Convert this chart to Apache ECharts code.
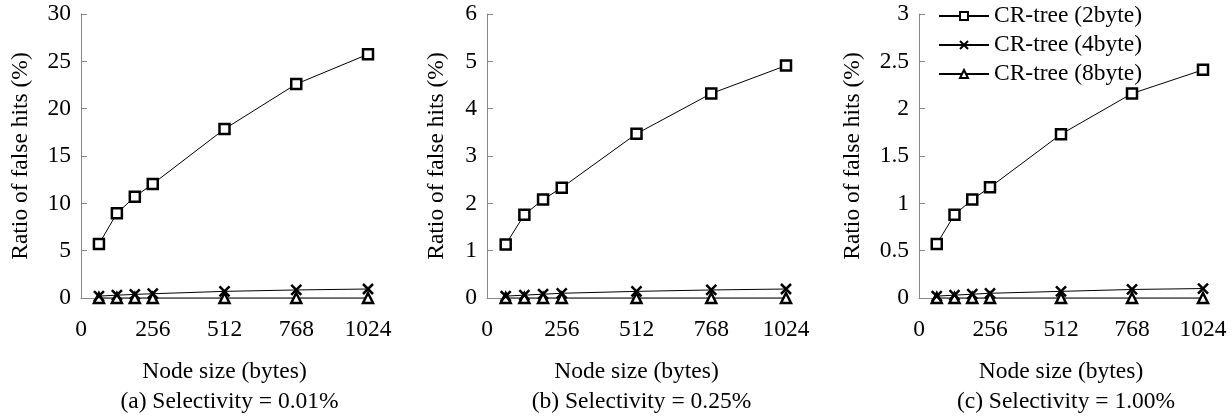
<!DOCTYPE html>
<html>
<head>
<meta charset="utf-8">
<script src="https://cdn.jsdelivr.net/npm/echarts@6/dist/echarts.min.js"></script>
<style>
html, body { margin: 0; padding: 0; background: #fff; }
#main { width: 1232px; height: 418px; }
</style>
</head>
<body>
<div id="main"></div>
<script>
// node sizes (bytes)
var nodeSizes = [64, 128, 192, 256, 512, 768, 1024];
var seriesNames = ['CR-tree (2byte)', 'CR-tree (4byte)', 'CR-tree (8byte)'];
var captions = ['(a) Selectivity = 0.01%', '(b) Selectivity = 0.25%', '(c) Selectivity = 1.00%'];

// ratio of false hits (%)
var sel001_2byte = [5.7, 8.95, 10.7, 12.05, 17.85, 22.6, 25.75];
var sel001_4byte = [0.2, 0.3, 0.38, 0.45, 0.7, 0.85, 0.95];
var sel001_8byte = [0, 0, 0, 0, 0, 0, 0];

var sel025_2byte = [1.13, 1.76, 2.08, 2.33, 3.47, 4.32, 4.91];
var sel025_4byte = [0.04, 0.06, 0.08, 0.1, 0.14, 0.17, 0.19];
var sel025_8byte = [0, 0, 0, 0, 0, 0, 0];

var sel100_2byte = [0.57, 0.88, 1.04, 1.17, 1.73, 2.16, 2.41];
var sel100_4byte = [0.02, 0.03, 0.04, 0.05, 0.07, 0.09, 0.1];
var sel100_8byte = [0, 0, 0, 0, 0, 0, 0];

var yMax = [30, 6, 3];
var yStep = [5, 1, 0.5];

var panels = [
    [sel001_2byte, sel001_4byte, sel001_8byte],
    [sel025_2byte, sel025_4byte, sel025_8byte],
    [sel100_2byte, sel100_4byte, sel100_8byte]
];

var font = 'Liberation Serif';
var fs = 23.5;
var grids = [
    { left: 81, width: 287, top: 14, height: 284 },
    { left: 487, width: 299, top: 14, height: 284 },
    { left: 919, width: 284, top: 14, height: 284 }
];
var yNameGap = [48, 38, 54];
var symbols = [
    'rect',
    'path://M0,0L10,10M10,0L0,10',
    'triangle'
];

function pairs(vals) {
    return nodeSizes.map(function (x, i) { return [x, vals[i]]; });
}

var xAxes = [], yAxes = [], series = [], titles = [];
for (var p = 0; p < 3; p++) {
    xAxes.push({
        gridIndex: p,
        type: 'value',
        min: 0, max: 1024, interval: 256,
        name: 'Node size (bytes)',
        nameLocation: 'middle',
        nameGap: 62,
        nameTextStyle: { fontFamily: font, fontSize: fs, color: '#000' },
        axisLine: { lineStyle: { color: '#888', width: 1 } },
        axisTick: { show: false },
        axisLabel: { fontFamily: font, fontSize: fs, color: '#000', margin: 20,
            formatter: function (v) { return String(v); } },
        splitLine: { show: false }
    });
    yAxes.push({
        gridIndex: p,
        type: 'value',
        min: 0, max: yMax[p], interval: yStep[p],
        name: 'Ratio of false hits (%)',
        nameLocation: 'middle',
        nameGap: yNameGap[p],
        nameTextStyle: { fontFamily: font, fontSize: fs, color: '#000' },
        axisLine: { show: true, lineStyle: { color: '#888', width: 1 } },
        axisTick: { show: true, inside: true, length: 6, lineStyle: { color: '#888' } },
        axisLabel: { fontFamily: font, fontSize: fs, color: '#000', margin: 10 },
        splitLine: { show: false }
    });
    for (var s = 0; s < 3; s++) {
        series.push({
            name: seriesNames[s],
            type: 'line',
            xAxisIndex: p,
            yAxisIndex: p,
            data: pairs(panels[p][s]),
            symbol: symbols[s],
            symbolSize: s === 0 ? 10 : 10,
            showAllSymbol: true,
            lineStyle: { color: '#000', width: 1 },
            itemStyle: { color: '#fff', borderColor: '#000', borderWidth: 2.5 },
            z: 10 - s
        });
    }
    titles.push({
        text: captions[p],
        left: grids[p].left + grids[p].width / 2,
        textAlign: 'center',
        top: 385,
        textStyle: { fontFamily: font, fontSize: fs, fontWeight: 'normal', color: '#000' }
    });
}

var chart = echarts.init(document.getElementById('main'));
chart.setOption({
    backgroundColor: '#fff',
    animation: false,
    title: titles,
    legend: {
        data: seriesNames,
        orient: 'vertical',
        left: 933,
        top: -1,
        itemWidth: 50,
        itemHeight: 10,
        itemGap: 5,
        textStyle: { fontFamily: font, fontSize: fs, color: '#000' },
        selectedMode: false
    },
    grid: grids,
    xAxis: xAxes,
    yAxis: yAxes,
    series: series
});
</script>
</body>
</html>
